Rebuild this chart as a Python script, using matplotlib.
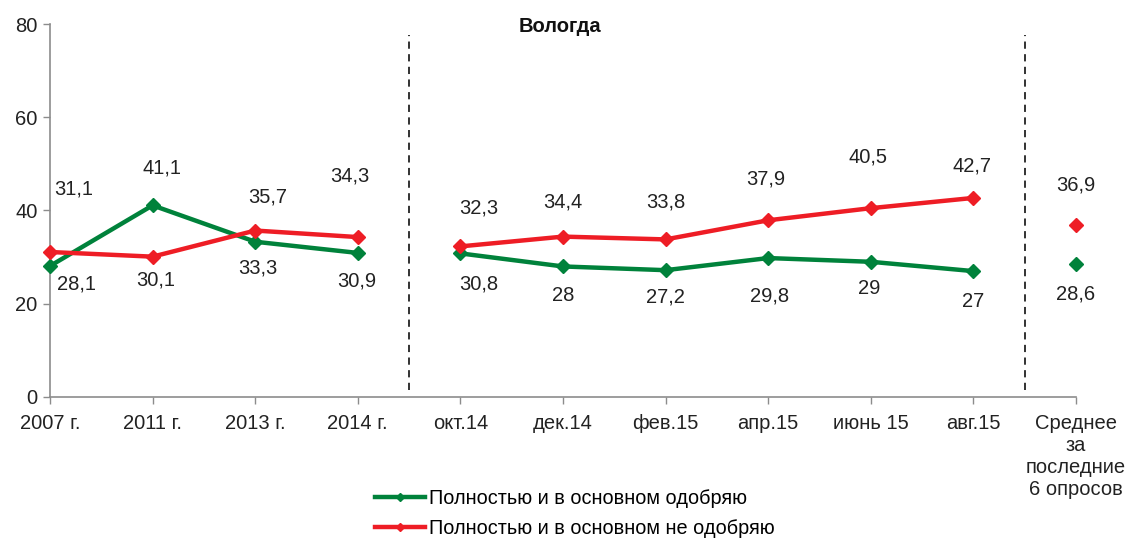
import matplotlib
matplotlib.use("Agg")
import matplotlib.pyplot as plt
import numpy as np
from matplotlib.lines import Line2D

plt.rcParams['font.family'] = ['Liberation Sans', 'DejaVu Sans']

categories = ["2007 г.", "2011 г.", "2013 г.", "2014 г.", "окт.14", "дек.14",
              "фев.15", "апр.15", "июнь 15", "авг.15",
              "Среднее\nза\nпоследние\n6 опросов"]
approve = [28.1, 41.1, 33.3, 30.9, 30.8, 28, 27.2, 29.8, 29, 27, 28.6]
disapprove = [31.1, 30.1, 35.7, 34.3, 32.3, 34.4, 33.8, 37.9, 40.5, 42.7, 36.9]
approve_name = "Полностью и в основном одобряю"
disapprove_name = "Полностью и в основном не одобряю"
title = "Вологда"

# label offsets in points (dx, dy) – layout only
red_off = [(17, 45), (2, -17), (9, 24), (-6, 44), (13, 28), (0, 25), (0, 27),
           (-2, 30), (-2, 37), (-1, 23), (0, 29)]
green_off = [(19, -13), (7, 27), (2, -19), (-1, -20), (13, -22), (0, -21),
             (0, -19), (1, -27), (-1, -19), (0, -22), (0, -22)]

GREEN = "#00823B"
RED = "#EE1D25"
GREY = "#8C8C8C"

fig = plt.figure(figsize=(11.29, 5.38), dpi=100)
ax = fig.add_axes([50/1129, 1-397/538, (1076-50)/1129, (397-24)/538])

x = np.arange(len(categories))
segs = [slice(0, 4), slice(4, 10)]
for s in segs:
    ax.plot(x[s], approve[s], color=GREEN, lw=3.2, marker='D', ms=6.8, clip_on=False, zorder=3)
    ax.plot(x[s], disapprove[s], color=RED, lw=3.2, marker='D', ms=6.8, clip_on=False, zorder=3)
ax.plot(x[10], approve[10], color=GREEN, marker='D', ms=6.8, ls='none', clip_on=False, zorder=3)
ax.plot(x[10], disapprove[10], color=RED, marker='D', ms=6.8, ls='none', clip_on=False, zorder=3)

fs = 14.5
for i in range(len(categories)):
    ax.annotate(f"{disapprove[i]:g}".replace('.', ','), (x[i], disapprove[i]),
                xytext=red_off[i], textcoords='offset points', ha='center', va='center',
                fontsize=fs, color='#222222')
    ax.annotate(f"{approve[i]:g}".replace('.', ','), (x[i], approve[i]),
                xytext=green_off[i], textcoords='offset points', ha='center', va='center',
                fontsize=fs, color='#222222')

for xv in (3.5, 9.5):
    ax.axvline(xv, ymin=0.019, ymax=0.97, color='#222222', lw=1.3, ls=(0, (4, 3)))

ax.set_xlim(0, 10)
ax.set_ylim(0, 80)
ax.set_yticks([0, 20, 40, 60, 80])
ax.set_xticks(x)
ax.set_xticklabels(categories, fontsize=fs, color='#222222', linespacing=1.2)
ax.tick_params(axis='y', labelsize=fs, labelcolor='#222222', color=GREY, length=5, width=1,
               direction='out', pad=4)
ax.tick_params(axis='x', color=GREY, length=5, width=1, direction='out', pad=7)
for sp in ('top', 'right'):
    ax.spines[sp].set_visible(False)
for sp in ('left', 'bottom'):
    ax.spines[sp].set_color(GREY)
    ax.spines[sp].set_linewidth(1.2)

fig.text(560/1129, 1-27/538, title, ha='center', va='center',
         fontsize=fs, fontweight='bold', color='#111111')

handles = [Line2D([], [], color=GREEN, lw=3.2, marker='D', ms=4.5),
           Line2D([], [], color=RED, lw=3.2, marker='D', ms=4.5)]
fig.legend(handles, [approve_name, disapprove_name], loc='upper left',
           bbox_to_anchor=(361/1129, 1-475/538), frameon=False, fontsize=14.3,
           handlelength=2.5, handletextpad=0.2, labelspacing=0.55, borderpad=0.2)

fig.savefig("out.png", dpi=100)
